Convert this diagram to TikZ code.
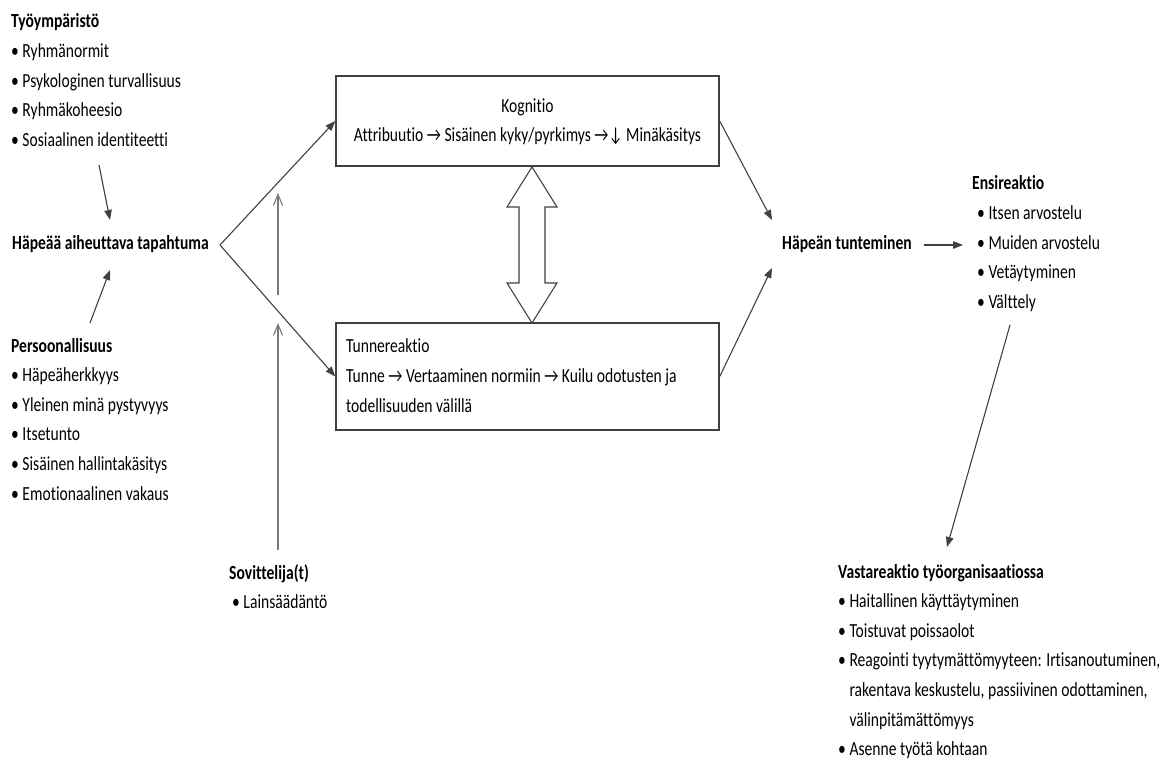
\documentclass[tikz,border=0pt]{standalone}
\usepackage{fontspec}
\setmainfont{Carlito}[FakeStretch=0.78, RawFeature=-liga]
\usetikzlibrary{arrows.meta}
\definecolor{linegray}{HTML}{404040}
\definecolor{softgray}{HTML}{7A7A7A}
\newcommand{\blk}[1]{\begin{tabular}[t]{@{}l@{}}#1\end{tabular}}
\begin{document}
\begin{tikzpicture}[x=1pt,y=-1pt,
  every node/.style={inner sep=0pt, font=\fontsize{20}{29.6}\selectfont},
  txtblock/.style={anchor=base west},
  procbox/.style={draw=linegray, line width=1.4pt, minimum width=383pt},
  flow/.style={draw=linegray, line width=1.1pt, -{Triangle[length=10pt,width=7.5pt]}},
  moder/.style={draw=softgray, line width=1.4pt, -{Straight Barb[length=11pt,width=9pt,line width=1.1pt]}}]
\useasboundingbox (0,0) rectangle (1167,767);

% left column: antecedents
\node[txtblock] (env) at (11,28) {\blk{\textbf{Työympäristö}\\• Ryhmänormit\\• Psykologinen turvallisuus\\• Ryhmäkoheesio\\• Sosiaalinen identiteetti}};
\node[txtblock] (event) at (12,250) {\textbf{Häpeää aiheuttava tapahtuma}};
\node[txtblock] (pers) at (11,352) {\blk{\textbf{Persoonallisuus}\\• Häpeäherkkyys\\• Yleinen minä pystyvyys\\• Itsetunto\\• Sisäinen hallintakäsitys\\• Emotionaalinen vakaus}};
\node[txtblock] (mod) at (229,579) {\blk{\textbf{Sovittelija(t)}\\\hspace{3pt}• Lainsäädäntö}};

% central process boxes
\node[procbox, minimum height=90pt] (kog) at (527.5,121)
  {\blk{\hfill Kognitio\hfill\null\\Attribuutio → Sisäinen kyky/pyrkimys →↓ Minäkäsitys}};
\node[procbox, minimum height=107pt, inner xsep=10pt] (tun) at (527.5,376.5)
  {\makebox[363pt][l]{\blk{Tunnereaktio\\Tunne → Vertaaminen normiin → Kuilu odotusten ja\\todellisuuden välillä}}};

% right side: outcome and reactions
\node[txtblock] (feel) at (782,250) {\textbf{Häpeän tunteminen}};
\node[txtblock] (first) at (972,190) {\blk{\textbf{Ensireaktio}\\\hspace{5pt}• Itsen arvostelu\\\hspace{5pt}• Muiden arvostelu\\\hspace{5pt}• Vetäytyminen\\\hspace{5pt}• Välttely}};
\node[txtblock] (counter) at (838,578) {\blk{\textbf{Vastareaktio työorganisaatiossa}\\• Haitallinen käyttäytyminen\\• Toistuvat poissaolot\\• Reagointi tyytymättömyyteen: Irtisanoutuminen,\\\hphantom{•}\ rakentava keskustelu, passiivinen odottaminen,\\\hphantom{•}\ välinpitämättömyys\\• Asenne työtä kohtaan}};

% connector end points
\coordinate (envout) at (99,165);
\coordinate (eventin1) at (110,220);
\coordinate (persout) at (90,323);
\coordinate (eventin2) at (110,270);
\coordinate (apex) at (220,245);
\coordinate (modlow) at (278,550);
\coordinate (modmid) at (278,323);
\coordinate (modup) at (278,295);
\coordinate (modtop) at (278,193);
\coordinate (feelin1) at (772,220);
\coordinate (feelin2) at (772,268);
\coordinate (feelout) at (924,245);
\coordinate (firstin) at (963,245);
\coordinate (firstout) at (1010,325);
\coordinate (counterin) at (947,547);

\draw[flow] (envout) -- (eventin1);
\draw[flow] (persout) -- (eventin2);
\draw[flow] (apex) -- (kog.west);
\draw[flow] (apex) -- (tun.west);
\draw[moder] (modlow) -- (modmid);
\draw[moder] (modup) -- (modtop);
\draw[flow] (kog.east) -- (feelin1);
\draw[flow] (tun.east) -- (feelin2);
\draw[flow, line width=1.3pt] (feelout) -- (firstin);
\draw[flow] (firstout) -- (counterin);

% two-way block arrow between the boxes
\draw[draw=linegray, line width=1.1pt, fill=white]
  (532,167) -- (557,207) -- (545,207) -- (545,283) -- (557,283) -- (532,323)
  -- (507,283) -- (519,283) -- (519,207) -- (507,207) -- cycle;
\end{tikzpicture}
\end{document}
